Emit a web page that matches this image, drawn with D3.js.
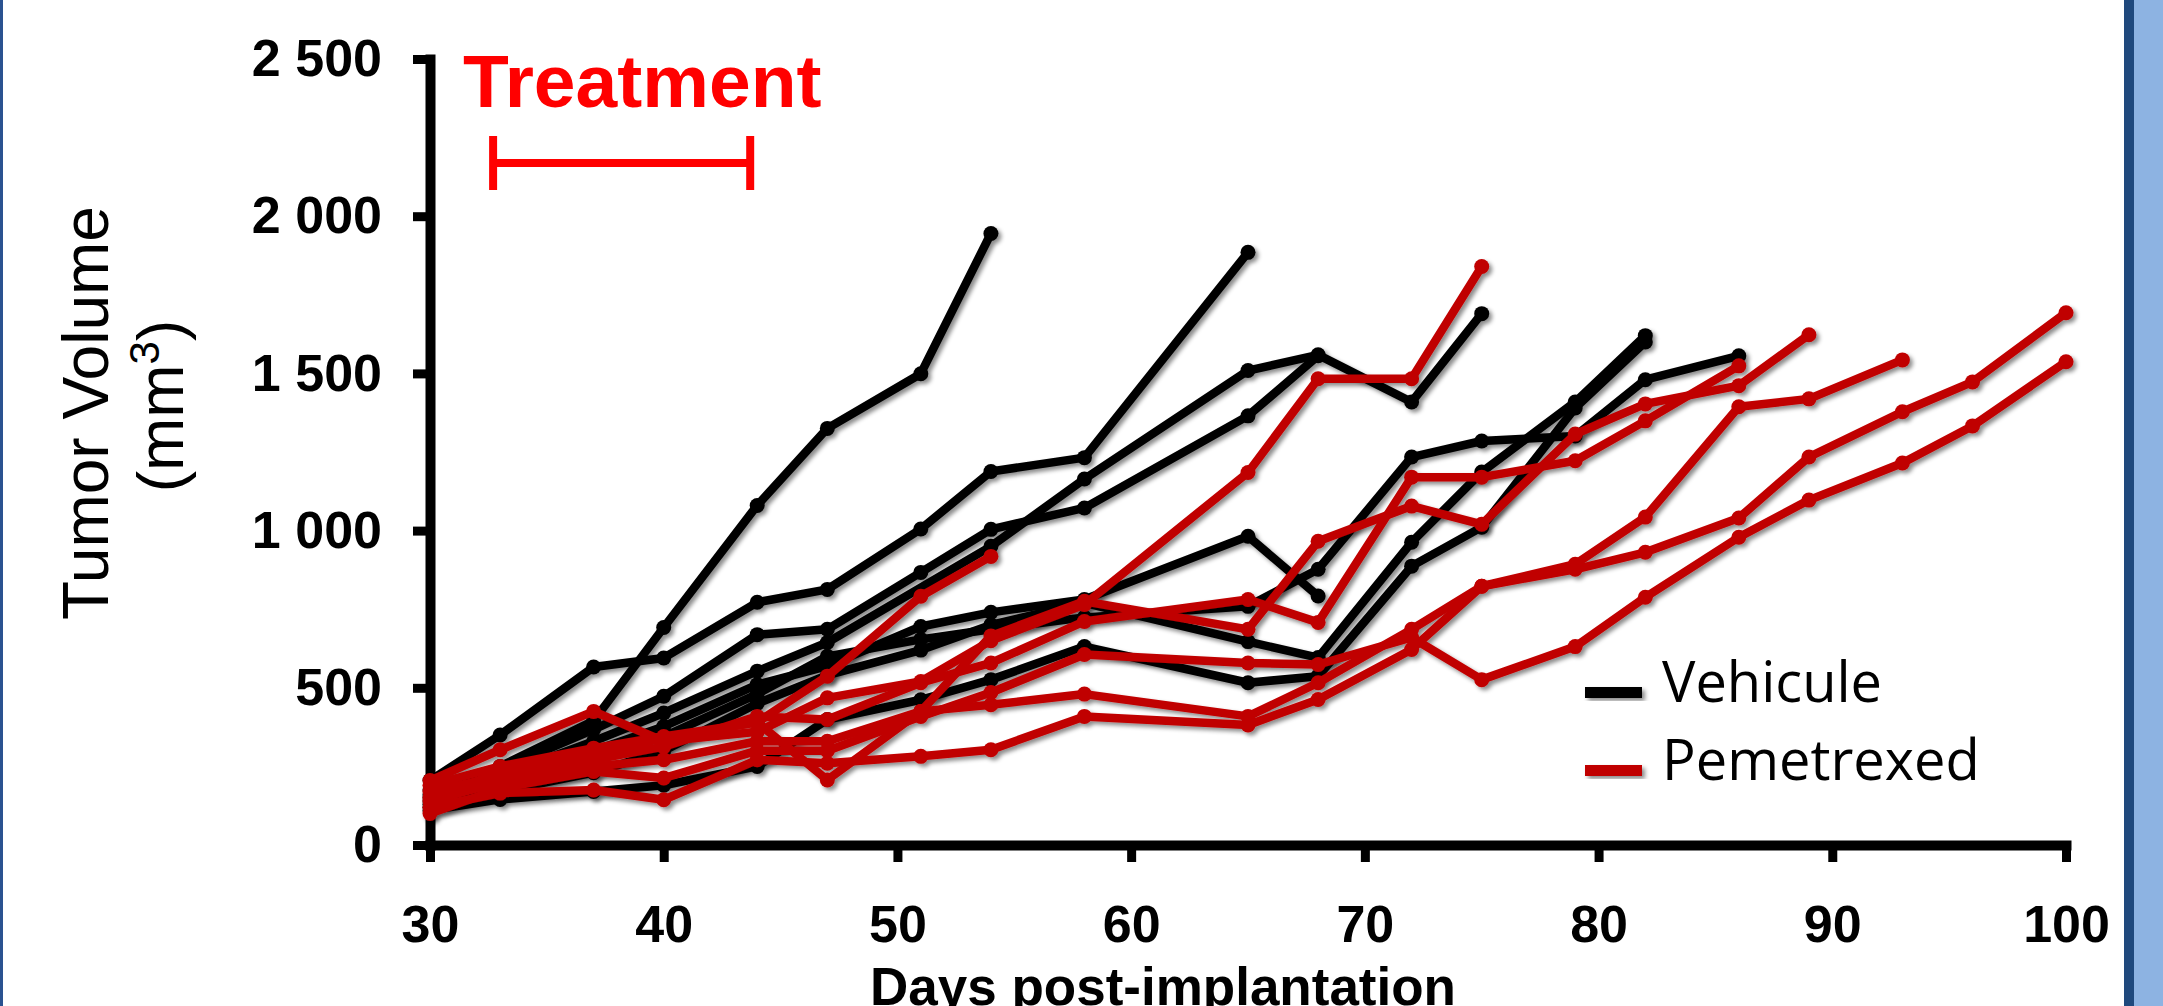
<!DOCTYPE html>
<html>
<head>
<meta charset="utf-8">
<script src="https://cdn.jsdelivr.net/npm/d3@7"></script>
<style>
  html, body { margin: 0; padding: 0; background: #fff; }
  #chart { width: 2163px; height: 1006px; }
</style>
</head>
<body>
<div id="chart"></div>
<script>
// measurement days (x) and tumor volumes (mm3), one array per mouse; null = no measure
const days = [30, 33, 37, 40, 44, 47, 51, 54, 58, 65, 68, 72, 75, 79, 82, 86, 89, 93, 96, 100];
const _ = null;

const vehicule1 = [150, 250, 395, 692, 1080, 1325, 1499, 1945, _, _, _, _, _, _, _, _, _, _, _, _];
const vehicule2 = [205, 350, 566, 595, 772, 813, 1005, 1188, 1232, 1885, _, _, _, _, _, _, _, _, _, _];
const vehicule3 = [175, 240, 367, 473, 669, 686, 867, 1004, 1072, 1365, 1556, _, _, _, _, _, _, _, _, _];
const vehicule4 = [160, 220, 330, 420, 553, 644, _, 950, 1164, 1509, 1559, 1409, 1690, _, _, _, _, _, _, _];
const vehicule5 = [140, 200, 300, 377, 510, 569, 695, 740, 781, 982, 792, _, _, _, _, _, _, _, _, _];
const vehicule6 = [130, 190, 280, 345, 480, 600, 654, 686, 724, 759, 877, 1234, 1285, 1301, 1480, 1556, _, _, _, _];
const vehicule7 = [120, 170, 230, 300, 450, 540, 620, 700, 770, 647, 596, 963, 1186, 1409, 1620, _, _, _, _, _];
const vehicule8 = [110, 145, 170, 190, 250, 399, 462, 526, 631, 516, 537, 887, 1011, 1390, 1600, _, _, _, _, _];

const pemetrexed1 = [190, 250, 308, 345, 390, 537, 791, 918, _, _, _, _, _, _, _, _, _, _, _, _];
const pemetrexed2 = [205, 303, 425, 330, 360, 468, 520, 650, 765, 1185, 1483, 1483, 1840, _, _, _, _, _, _, _];
const pemetrexed3 = [170, 218, 271, 313, 409, 399, 516, 579, 711, 781, 708, 1170, 1170, 1222, 1349, 1524, _, _, _, _];
const pemetrexed4 = [150, 230, 290, 340, 390, 207, 425, 665, 775, 686, 966, 1078, 1020, 1307, 1403, 1461, 1623, _, _, _];
const pemetrexed5 = [140, 200, 250, 271, 330, 330, 425, 446, 480, 409, 516, 686, 823, 877, 931, 1040, 1234, 1378, 1473, 1693];
const pemetrexed6 = [120, 165, 175, 144, 271, 260, 282, 303, 409, 382, 463, 622, 823, 893, 1043, 1394, 1419, 1543, _, _];
const pemetrexed7 = [100, 180, 234, 213, 300, 300, 409, 485, 606, 579, 574, 660, 526, 631, 788, 979, 1097, 1215, 1333, 1537];

const vehiculeGroup = [vehicule1, vehicule2, vehicule3, vehicule4, vehicule5, vehicule6, vehicule7, vehicule8];
const pemetrexedGroup = [pemetrexed1, pemetrexed2, pemetrexed3, pemetrexed4, pemetrexed5, pemetrexed6, pemetrexed7];

const xTicks = [30, 40, 50, 60, 70, 80, 90, 100];
const yTicks = [0, 500, 1000, 1500, 2000, 2500];
const treatmentDays = [32.7, 43.7];
const legendLabels = ["Vehicule", "Pemetrexed"];

const black = "#000000", red = "#c00000";

let w = 2163, h = 1006;
var svg = d3.select("#chart").append("svg")
  .attr("width", w).attr("height", h);

// soft shadow under the marks
var defs = svg.append("defs");
var f = defs.append("filter").attr("id", "shadow")
  .attr("x", "-10%").attr("y", "-10%").attr("width", "130%").attr("height", "130%");
f.append("feDropShadow").attr("dx", 3).attr("dy", 3).attr("stdDeviation", 2)
  .attr("flood-color", "#000").attr("flood-opacity", 0.45);

svg.append("rect").attr("width", w).attr("height", h).attr("fill", "#fff");
// frame pieces of the slide
svg.append("rect").attr("x", 0).attr("y", 0).attr("width", 3).attr("height", h).attr("fill", "#2a5290");
svg.append("rect").attr("x", 2124).attr("y", 0).attr("width", 10).attr("height", h).attr("fill", "#1f497d");
svg.append("rect").attr("x", 2134).attr("y", 0).attr("width", 29).attr("height", h).attr("fill", "#8db3e2");

var x = d3.scaleLinear().domain([30, 100]).range([430, 2066]);
var y = d3.scaleLinear().domain([0, 2500]).range([845, 59]);

var fmt = d3.formatLocale({decimal: ".", thousands: " ", grouping: [3], currency: ["", ""]}).format(",");

// axes
var yAxis = svg.append("g").attr("transform", "translate(430,0)")
  .call(d3.axisLeft(y).tickValues(yTicks).tickFormat(fmt).tickSize(17).tickSizeOuter(0).tickPadding(31));
var xAxis = svg.append("g").attr("transform", "translate(0,845)")
  .call(d3.axisBottom(x).tickValues(xTicks).tickSize(17).tickSizeOuter(0).tickPadding(43));
[yAxis, xAxis].forEach(function(a) {
  a.select(".domain").attr("stroke", "#000").attr("stroke-width", 10).attr("stroke-linecap", "square");
  a.selectAll(".tick line").attr("stroke", "#000").attr("stroke-width", 9);
  a.selectAll("text").attr("fill", "#000")
    .style("font-family", "'Liberation Sans', Arial, sans-serif")
    .style("font-weight", "bold").style("font-size", "52px");
});

var line = d3.line()
  .x(function(d) { return x(d[0]); })
  .y(function(d) { return y(d[1]); });

function points(s) {
  return days.map(function(d, i) { return [d, s[i]]; }).filter(function(p) { return p[1] != null; });
}

function drawGroup(group, color) {
  var g = svg.append("g").attr("filter", "url(#shadow)");
  group.forEach(function(s) {
    var pts = points(s);
    g.append("path").attr("d", line(pts))
      .attr("fill", "none").attr("stroke", color).attr("stroke-width", 8.5)
      .attr("stroke-linejoin", "round");
    g.selectAll(null).data(pts).enter().append("circle")
      .attr("cx", function(d) { return x(d[0]); })
      .attr("cy", function(d) { return y(d[1]); })
      .attr("r", 7.5).attr("fill", color);
  });
}
drawGroup(vehiculeGroup, black);
drawGroup(pemetrexedGroup, red);

// treatment window
var tg = svg.append("g").attr("stroke", "#ff0000").attr("stroke-width", 8);
tg.append("line").attr("x1", x(treatmentDays[0])).attr("x2", x(treatmentDays[1])).attr("y1", 163).attr("y2", 163);
treatmentDays.forEach(function(d) {
  tg.append("line").attr("x1", x(d)).attr("x2", x(d)).attr("y1", 136).attr("y2", 190);
});
svg.append("text").attr("x", 463).attr("y", 107).text("Treatment")
  .attr("fill", "#ff0000").style("font-family", "'Liberation Sans', Arial, sans-serif")
  .style("font-weight", "bold").style("font-size", "75px");

// axis titles
var yt = svg.append("text").attr("transform", "translate(108,413) rotate(-90)")
  .attr("text-anchor", "middle").style("font-family", "'Liberation Sans', Arial, sans-serif")
  .style("font-size", "64px").attr("fill", "#000").text("Tumor Volume");
var yt2 = svg.append("text").attr("transform", "translate(183,406) rotate(-90)")
  .attr("text-anchor", "middle").style("font-family", "'Liberation Sans', Arial, sans-serif")
  .style("font-size", "64px").attr("fill", "#000");
yt2.append("tspan").text("(mm");
yt2.append("tspan").attr("dy", -24).style("font-size", "42px").text("3");
yt2.append("tspan").attr("dy", 24).text(")");

svg.append("text").attr("x", 1163).attr("y", 1005).attr("text-anchor", "middle")
  .style("font-family", "'Liberation Sans', Arial, sans-serif")
  .style("font-weight", "bold").style("font-size", "53px").text("Days post-implantation");

// legend
var lg = svg.append("g");
legendLabels.forEach(function(l, i) {
  lg.append("rect").attr("x", 1585).attr("y", 687 + i * 78).attr("width", 57).attr("height", 11)
    .attr("fill", i == 0 ? black : red).attr("filter", "url(#shadow)");
  lg.append("text").attr("x", 1662).attr("y", 702 + i * 78).text(l)
    .style("font-family", "'Open Sans', sans-serif").style("font-size", "56px").attr("fill", "#000");
});
</script>
</body>
</html>
